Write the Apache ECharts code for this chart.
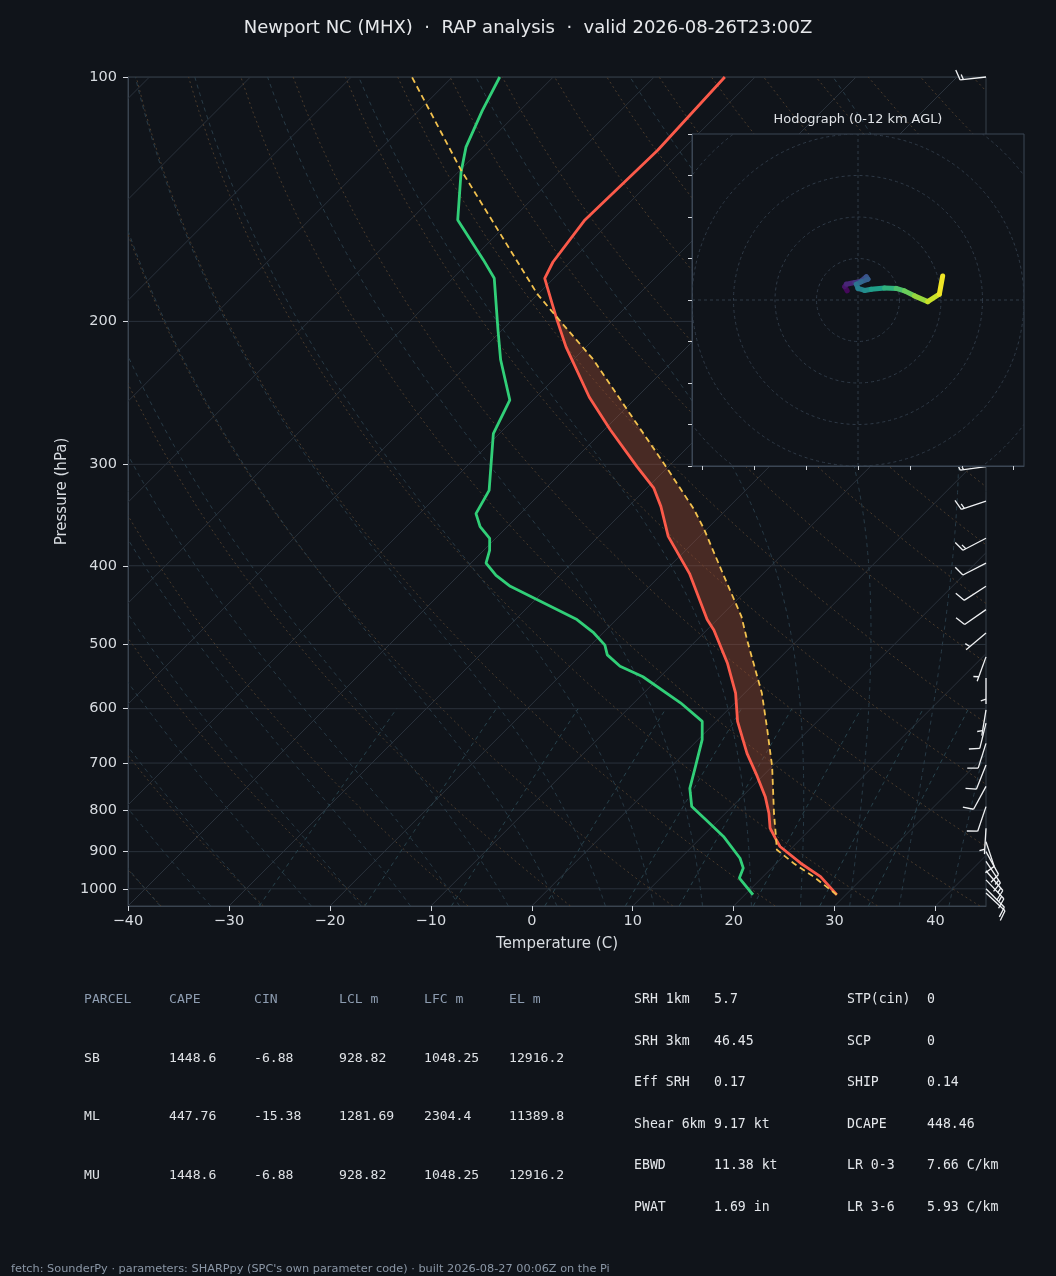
<!DOCTYPE html>
<html><head><meta charset="utf-8">
<script src="https://cdn.jsdelivr.net/npm/echarts@6/dist/echarts.min.js"></script>
<style>html,body{margin:0;padding:0;background:#10141a;}#c{width:1056px;height:1276px;}</style>
</head><body><div id="c"></div>
<script>
// ---------------- data ----------------
const titleText = 'Newport NC (MHX)  \u00b7  RAP analysis  \u00b7  valid 2026-08-26T23:00Z';
const footerText = "fetch: SounderPy \u00b7 parameters: SHARPpy (SPC's own parameter code) \u00b7 built 2026-08-27 00:06Z on the Pi";
const hodoTitle = 'Hodograph (0-12 km AGL)';

const tempP = [1017, 966, 930, 887, 866, 842, 807, 770, 727, 681, 622, 574, 527, 480, 466, 409, 368, 338, 321, 302, 272, 248, 215, 199, 190, 177, 169, 150, 123, 100];
const tempT = [29.1, 25.7, 22.4, 18.7, 17.4, 15.9, 14.3, 12.3, 9.5, 6.2, 2.1, -0.9, -4.7, -9.3, -11.0, -17.3, -23.1, -26.8, -29.3, -33.1, -39.4, -44.7, -52.0, -55.6, -57.7, -60.9, -61.7, -62.7, -62.4, -63.0];

const dewP = [1017, 970, 943, 917, 862, 822, 792, 752, 707, 655, 622, 590, 548, 532, 515, 501, 484, 466, 424, 411, 397, 383, 370, 358, 345, 323, 275, 250, 223, 205, 177, 168, 150, 131, 122, 110, 100];
const dewT = [20.8, 17.8, 17.2, 15.9, 12.1, 8.7, 6.0, 4.0, 2.4, 0.4, -1.4, -5.4, -11.7, -15.0, -17.4, -18.6, -20.9, -23.9, -33.8, -36.3, -38.5, -39.4, -40.6, -42.7, -44.4, -45.4, -50.6, -52.3, -57.2, -60.4, -65.9, -68.8, -75.3, -79.7, -81.7, -83.7, -85.3];

const parcelP = [1017, 966, 930, 895, 862, 807, 707, 631, 574, 494, 462, 409, 361, 341, 299, 257, 223, 199, 185, 130, 100];
const parcelT = [29.1, 25.0, 21.7, 18.7, 17.3, 14.8, 10.0, 5.5, 1.7, -5.0, -7.9, -14.0, -20.2, -23.2, -30.8, -39.7, -48.0, -55.4, -60.1, -80.0, -94.0];

const windP = [1012, 1000, 975, 950, 925, 900, 875, 842, 792, 748, 704, 662, 625, 602, 550, 518, 484, 453, 424, 397, 370, 333, 302, 100];
const windU = [-7.5, -8.0, -9.0, -8.5, -7.0, -5.5, -3.0, 0.3, 3.2, 4.8, 3.7, 3.0, 2.4, 0.8, 0.0, 1.7, 3.8, 8.2, 8.4, 8.9, 13.3, 14.2, 14.9, 15.0];
const windV = [7.0, 8.0, 9.5, 10.0, 10.5, 10.0, 9.0, 5.0, 9.5, 8.8, 9.3, 9.5, 9.7, 4.9, 5.0, 4.7, 3.2, 5.7, 5.4, 4.6, 6.9, 4.7, 2.0, 1.7];

const hodoU = [-2.6, -3.2, -2.8, -0.8, 0.8, 2.0, 2.4, 0.8, -0.4, 0.0, 1.6, 3.2, 6.4, 9.2, 11.2, 13.6, 16.8, 19.6, 20.4];
const hodoV = [2.2, 3.2, 3.8, 4.2, 4.6, 5.6, 5.0, 4.4, 3.8, 2.8, 2.3, 2.6, 2.9, 2.8, 2.2, 1.0, -0.4, 1.4, 5.8];
const hodoZ = [0, 0.5, 1.0, 1.5, 2.2, 3.0, 3.4, 3.8, 4.3, 5.0, 5.6, 6.2, 7.2, 8.2, 8.9, 9.6, 10.6, 11.5, 12.0];

const pressureTicks = [100, 200, 300, 400, 500, 600, 700, 800, 900, 1000];
const tempTicks = [-40, -30, -20, -10, 0, 10, 20, 30, 40];
const isothermT = [-130, -120, -110, -100, -90, -80, -70, -60, -50, -40, -30, -20, -10, 0, 10, 20, 30, 40];
const dryAdiabatT0 = [-40, -30, -20, -10, 0, 10, 20, 30, 40, 50, 60, 70, 80, 90, 100, 110, 120, 130, 140, 150, 160, 170, 180, 190, 200];
const moistAdiabatT0 = [-40, -35, -30, -25, -20, -15, -10, -5, 0, 5, 10, 15, 20, 25, 30, 35, 40, 45];
const mixingRatios = [0.4, 1, 2, 4, 7, 10, 16, 24, 32];
const hodoRings = [10, 20, 30, 40, 50];
const hodoXTicks = [-37.5, -25, -12.5, 0, 12.5, 25, 37.5];
const hodoYTicks = [-40, -30, -20, -10, 0, 10, 20, 30, 40];

const tableHeaders = ['PARCEL', 'CAPE', 'CIN', 'LCL m', 'LFC m', 'EL m'];
const parcelNames = ['SB', 'ML', 'MU'];
const capeVals = [1448.6, 447.76, 1448.6];
const cinVals = [-6.88, -15.38, -6.88];
const lclVals = [928.82, 1281.69, 928.82];
const lfcVals = [1048.25, 2304.4, 1048.25];
const elVals = [12916.2, 11389.8, 12916.2];
const indexLabelsA = ['SRH 1km', 'SRH 3km', 'Eff SRH', 'Shear 6km', 'EBWD', 'PWAT'];
const indexValuesA = ['5.7', '46.45', '0.17', '9.17 kt', '11.38 kt', '1.69 in'];
const indexLabelsB = ['STP(cin)', 'SCP', 'SHIP', 'DCAPE', 'LR 0-3', 'LR 3-6'];
const indexValuesB = ['0', '0', '0.14', '448.46', '7.66 C/km', '5.93 C/km'];

// ---------------- layout / style ----------------
const BG = '#10141a';
const G = {left: 128, top: 77, width: 858, height: 829};
const HG = {left: 692, top: 134, width: 332, height: 332};
const X_MIN = -40, X_MAX = 45, P_TOP = 100, P_BOT = 1050;
const SKEW = (G.height / (Math.log10(P_BOT) - Math.log10(P_TOP))) / (G.width / (X_MAX - X_MIN));
const FONT = '"DejaVu Sans", "Noto Sans", sans-serif';
const MONO = '"DejaVu Sans Mono", "Liberation Mono", monospace';
const TXT = '#d8dce1';

function sx(T, p) { return T + SKEW * Math.log10(P_BOT / p); }
function ly(p) { return Math.log10(p); }

// ---------- thermodynamic guide lines ----------
const guidePressures = [];
for (let p = P_BOT; p >= P_TOP; p -= 10) guidePressures.push(p);
if (guidePressures[guidePressures.length - 1] !== P_TOP) guidePressures.push(P_TOP);

const isobarLines = pressureTicks.map(p => [[X_MIN, ly(p)], [X_MAX, ly(p)]]);
const isothermLines = isothermT.map(t => [[sx(t, P_BOT), ly(P_BOT)], [sx(t, P_TOP), ly(P_TOP)]]);
const dryLines = dryAdiabatT0.map(t0 => guidePressures.map(p => {
  const T = (t0 + 273.15) * Math.pow(p / 1000, 0.2857) - 273.15;
  return [sx(T, p), ly(p)];
}));
function dTdp(T, p) {
  const Tc = T - 273.15;
  const es = 6.112 * Math.exp(17.67 * Tc / (Tc + 243.5));
  const rs = 0.622 * es / (p - es);
  return (287.04 * T + 2.501e6 * rs) / (p * (1005.7 + 2.501e6 * 2.501e6 * rs * 0.622 / (287.04 * T * T)));
}
function rk4(T, p, dp) {
  const k1 = dTdp(T, p), k2 = dTdp(T + k1 * dp / 2, p + dp / 2), k3 = dTdp(T + k2 * dp / 2, p + dp / 2), k4 = dTdp(T + k3 * dp, p + dp);
  return T + dp * (k1 + 2 * k2 + 2 * k3 + k4) / 6;
}
const moistLines = moistAdiabatT0.map(t0 => {
  const up = []; let T = t0 + 273.15, p = 1000; up.push([T, p]);
  while (p > P_TOP) { T = rk4(T, p, -5); p -= 5; up.push([T, p]); }
  const down = []; T = t0 + 273.15; p = 1000;
  while (p < P_BOT) { T = rk4(T, p, 5); p += 5; down.push([T, p]); }
  return down.reverse().concat(up).map(a => [sx(a[0] - 273.15, a[1]), ly(a[1])]);
});
const mixPressures = [];
for (let p = P_BOT; p >= 600; p -= 10) mixPressures.push(p);
const mixLines = mixingRatios.map(w => mixPressures.map(p => {
  const r = w / 1000; const e = r * p / (0.622 + r);
  const l = Math.log(e / 6.112); const Td = 243.5 * l / (17.67 - l);
  return [sx(Td, p), ly(p)];
}));

function guideSeries(lines, style, z) {
  return {
    type: 'custom', xAxisIndex: 0, yAxisIndex: 0, z: z, clip: true, silent: true, animation: false,
    data: lines.map((l, i) => [i, 0]),
    renderItem: (params, api) => {
      const pts = lines[params.dataIndex].map(d => api.coord(d));
      return {type: 'polyline', shape: {points: pts}, style: Object.assign({fill: 'none'}, style)};
    }
  };
}

// ---------- CAPE area (parcel warmer than environment) ----------
function interpT(P, T, p) {
  for (let i = 0; i < P.length - 1; i++) {
    if (p <= P[i] && p >= P[i + 1]) {
      const a = Math.log(P[i]), b = Math.log(P[i + 1]);
      const f = b === a ? 0 : (Math.log(p) - a) / (b - a);
      return T[i] + f * (T[i + 1] - T[i]);
    }
  }
  return null;
}
const pHi = Math.min(parcelP[0], tempP[0]), pLo = Math.max(parcelP[parcelP.length - 1], tempP[tempP.length - 1]);
const mergedP = Array.from(new Set(parcelP.concat(tempP))).filter(p => p <= pHi && p >= pLo).sort((a, b) => b - a);
function diffAt(p) { return interpT(parcelP, parcelT, p) - interpT(tempP, tempT, p); }
function crossP(p0, p1) {
  const d0 = diffAt(p0), d1 = diffAt(p1); const f = d0 / (d0 - d1);
  return Math.exp(Math.log(p0) + f * (Math.log(p1) - Math.log(p0)));
}
const capeSegs = []; let cur = null;
for (let k = 0; k < mergedP.length; k++) {
  const p = mergedP[k]; const d = diffAt(p);
  if (d > 0) {
    if (!cur) { cur = []; if (k > 0) cur.push(crossP(mergedP[k - 1], p)); }
    cur.push(p);
  } else if (cur) {
    cur.push(crossP(mergedP[k - 1], p)); capeSegs.push(cur); cur = null;
  }
}
if (cur) capeSegs.push(cur);
const capePolys = capeSegs.map(seg => {
  const a = seg.map(p => [sx(interpT(parcelP, parcelT, p), p), ly(p)]);
  const b = seg.slice().reverse().map(p => [sx(interpT(tempP, tempT, p), p), ly(p)]);
  return a.concat(b);
});

// ---------- viridis ----------
const VIRIDIS = ['#440154', '#482878', '#3e4989', '#31688e', '#26828e', '#1f9e89', '#35b779', '#6ece58', '#b5de2b', '#fde725'];
function hx(c) { return [parseInt(c.substr(1, 2), 16), parseInt(c.substr(3, 2), 16), parseInt(c.substr(5, 2), 16)]; }
function viridis(t) {
  t = Math.max(0, Math.min(1, t));
  const x = t * (VIRIDIS.length - 1); const i = Math.min(Math.floor(x), VIRIDIS.length - 2); const f = x - i;
  const a = hx(VIRIDIS[i]), b = hx(VIRIDIS[i + 1]);
  return 'rgb(' + [0, 1, 2].map(k => Math.round(a[k] + f * (b[k] - a[k]))).join(',') + ')';
}

// ---------- barbs ----------
function renderBarb(params, api) {
  const i = params.dataIndex;
  const base = api.coord([X_MAX, ly(windP[i])]);
  const u = windU[i], v = windV[i];
  const spd = Math.hypot(u, v);
  const L = 26, fh = 0.4 * L, fw = 0.25 * L, sp = 0.125 * L;
  const style = {stroke: '#f0f2f4', lineWidth: 1.3, fill: 'none'};
  if (spd < 0.01) return {type: 'circle', shape: {cx: base[0], cy: base[1], r: 3}, style: style};
  const s = [-u / spd, v / spd];
  const n = [-v / spd, -u / spd];
  const P = (a, b) => [base[0] + b * s[0] + a * n[0], base[1] + b * s[1] + a * n[1]];
  const children = [{type: 'polyline', shape: {points: [P(0, 0), P(0, L)]}, style: style}];
  let r = 5 * Math.round(spd / 5);
  const nFlag = Math.floor(r / 50); r -= nFlag * 50;
  const nBarb = Math.floor(r / 10); r -= nBarb * 10;
  const half = r >= 5;
  let off = L;
  for (let k = 0; k < nFlag; k++) {
    children.push({type: 'polygon', shape: {points: [P(0, off), P(fh, off - fw / 2), P(0, off - fw)]}, style: {fill: '#f0f2f4', stroke: '#f0f2f4', lineWidth: 1}});
    off -= fw + sp;
  }
  for (let k = 0; k < nBarb; k++) {
    children.push({type: 'polyline', shape: {points: [P(0, off), P(fh, off + fw / 2)]}, style: style});
    off -= sp;
  }
  if (half) {
    if (off === L) off -= 1.5 * sp;
    children.push({type: 'polyline', shape: {points: [P(0, off), P(fh / 2, off + fw / 4)]}, style: style});
  }
  return {type: 'group', children: children};
}

// ---------- graphic texts ----------
const graphics = [];
function txt(x, y, text, font, fill, align) {
  graphics.push({type: 'text', x: x, y: y, z: 100, silent: true,
    style: {text: text, font: font, fill: fill, textAlign: align || 'left', textVerticalAlign: 'middle', align: align || 'left', verticalAlign: 'middle'}});
}
txt(528, 28, titleText, '18px ' + FONT, '#e6e8eb', 'center');
txt(858, 120, hodoTitle, '12.9px ' + FONT, '#dfe2e6', 'center');
txt(11, 1269, footerText, '11.3px ' + FONT, '#8a96a5', 'left');
const colX = [84, 169, 254, 339, 424, 509];
const rowY = [1000, 1058.5, 1117, 1176];
const TFONT = '13.1px ' + MONO;
const RFONT = '13.2px ' + MONO;
tableHeaders.forEach((h, j) => txt(colX[j], rowY[0], h, TFONT, '#8d9cb0'));
parcelNames.forEach((nm, r) => {
  const vals = [nm, capeVals[r], cinVals[r], lclVals[r], lfcVals[r], elVals[r]];
  vals.forEach((v, j) => txt(colX[j], rowY[r + 1], String(v), TFONT, '#dfe2e6'));
});
const idxY = [1000, 1041.5, 1083, 1124.5, 1166, 1207.5];
indexLabelsA.forEach((l, r) => { txt(634, idxY[r], l, RFONT, '#e4e7eb'); txt(714, idxY[r], indexValuesA[r], RFONT, '#e4e7eb'); });
indexLabelsB.forEach((l, r) => { txt(847, idxY[r], l, RFONT, '#e4e7eb'); txt(927, idxY[r], indexValuesB[r], RFONT, '#e4e7eb'); });

// ---------- chart ----------
const chart = echarts.init(document.getElementById('c'), null, {renderer: 'canvas'});
const gridCol = '#2a323c';
chart.setOption({
  backgroundColor: BG,
  animation: false,
  grid: [
    {left: G.left, top: G.top, width: G.width, height: G.height, show: true, borderColor: '#36404b', borderWidth: 1, backgroundColor: 'transparent'},
    {left: HG.left, top: HG.top, width: HG.width, height: HG.height, show: true, borderColor: '#3b4654', borderWidth: 1, backgroundColor: BG, z: 10}
  ],
  xAxis: [
    {type: 'value', gridIndex: 0, min: X_MIN, max: X_MAX,
      axisLine: {show: true, onZero: false, lineStyle: {color: '#3a4450'}},
      axisTick: {show: true, customValues: tempTicks, length: 5, lineStyle: {color: '#d6dae0'}},
      axisLabel: {show: true, customValues: tempTicks, color: TXT, fontSize: 14.5, fontFamily: FONT, margin: 8,
        formatter: v => (v < 0 ? '\u2212' + Math.abs(v) : String(v))},
      splitLine: {show: false},
      name: 'Temperature (C)', nameLocation: 'middle', nameGap: 31,
      nameTextStyle: {color: TXT, fontSize: 15, fontFamily: FONT}},
    {type: 'value', gridIndex: 1, min: -40, max: 40, z: 11,
      axisLine: {show: true, onZero: false, lineStyle: {color: '#3b4654'}},
      axisTick: {show: true, customValues: hodoXTicks, length: 4, lineStyle: {color: '#cfd3d8'}},
      axisLabel: {show: false}, splitLine: {show: false}}
  ],
  yAxis: [
    {type: 'value', gridIndex: 0, inverse: true, min: ly(P_TOP), max: ly(P_BOT),
      axisLine: {show: true, onZero: false, lineStyle: {color: '#3a4450'}},
      axisTick: {show: true, customValues: pressureTicks.map(ly), length: 5, lineStyle: {color: '#d6dae0'}},
      axisLabel: {show: true, customValues: pressureTicks.map(ly), color: TXT, fontSize: 14.5, fontFamily: FONT, margin: 11,
        formatter: v => String(Math.round(Math.pow(10, v)))},
      splitLine: {show: false},
      name: 'Pressure (hPa)', nameLocation: 'middle', nameGap: 57, nameRotate: 90,
      nameTextStyle: {color: TXT, fontSize: 15, fontFamily: FONT}},
    {type: 'value', gridIndex: 1, min: -40, max: 40, z: 11,
      axisLine: {show: true, onZero: false, lineStyle: {color: '#3b4654'}},
      axisTick: {show: true, customValues: hodoYTicks, length: 4, lineStyle: {color: '#cfd3d8'}},
      axisLabel: {show: false}, splitLine: {show: false}}
  ],
  graphic: graphics,
  series: [
    guideSeries(isobarLines, {stroke: gridCol, lineWidth: 1}, 1),
    guideSeries(isothermLines, {stroke: gridCol, lineWidth: 1}, 1),
    guideSeries(dryLines, {stroke: '#4a3b2c', lineWidth: 1, lineDash: [2, 3]}, 1),
    guideSeries(moistLines, {stroke: '#283b47', lineWidth: 1, lineDash: [4, 4]}, 1),
    guideSeries(mixLines, {stroke: '#28434d', lineWidth: 1, lineDash: [4, 4]}, 1),
    {type: 'custom', xAxisIndex: 0, yAxisIndex: 0, z: 2, clip: true, silent: true,
      data: capePolys.map((c, i) => [i, 0]),
      renderItem: (params, api) => ({type: 'polygon', shape: {points: capePolys[params.dataIndex].map(d => api.coord(d))},
        style: {fill: 'rgba(165,80,52,0.38)', stroke: 'none'}})},
    {type: 'line', xAxisIndex: 0, yAxisIndex: 0, z: 3, clip: true, silent: true, symbol: 'none', showSymbol: false,
      data: dewP.map((p, i) => [sx(dewT[i], p), ly(p)]), lineStyle: {color: '#31cf78', width: 2.8}},
    {type: 'line', xAxisIndex: 0, yAxisIndex: 0, z: 3, clip: true, silent: true, symbol: 'none', showSymbol: false,
      data: tempP.map((p, i) => [sx(tempT[i], p), ly(p)]), lineStyle: {color: '#fb5a4a', width: 2.8}},
    {type: 'line', xAxisIndex: 0, yAxisIndex: 0, z: 4, clip: true, silent: true, symbol: 'none', showSymbol: false,
      data: parcelP.map((p, i) => [sx(parcelT[i], p), ly(p)]), lineStyle: {color: '#f2c14e', width: 1.8, type: [6, 4]}},
    {type: 'custom', xAxisIndex: 0, yAxisIndex: 0, z: 5, clip: false, silent: true,
      data: windP.map((p, i) => [i, 0]), renderItem: renderBarb},
    // hodograph
    {type: 'custom', xAxisIndex: 1, yAxisIndex: 1, z: 12, clip: true, silent: true,
      data: hodoRings.map((r, i) => [i, 0]),
      renderItem: (params, api) => {
        const c = api.coord([0, 0]); const r = api.size([hodoRings[params.dataIndex], 0])[0];
        return {type: 'circle', shape: {cx: c[0], cy: c[1], r: r}, style: {fill: 'none', stroke: '#2f3a47', lineWidth: 1, lineDash: [3, 3]}};
      }},
    {type: 'custom', xAxisIndex: 1, yAxisIndex: 1, z: 12, clip: true, silent: true,
      data: [[0, 0], [1, 0]],
      renderItem: (params, api) => {
        const pts = params.dataIndex === 0 ? [api.coord([-40, 0]), api.coord([40, 0])] : [api.coord([0, -40]), api.coord([0, 40])];
        return {type: 'polyline', shape: {points: pts}, style: {fill: 'none', stroke: '#2f3a47', lineWidth: 1, lineDash: [3, 3]}};
      }},
    {type: 'custom', xAxisIndex: 1, yAxisIndex: 1, z: 13, clip: true, silent: true,
      data: hodoU.slice(0, -1).map((u, i) => [u, hodoV[i]]),
      renderItem: (params, api) => {
        const i = params.dataIndex;
        return {type: 'polyline', shape: {points: [api.coord([hodoU[i], hodoV[i]]), api.coord([hodoU[i + 1], hodoV[i + 1]])]},
          style: {fill: 'none', stroke: viridis((hodoZ[i] + hodoZ[i + 1]) / 24), lineWidth: 5, lineCap: 'round'}};
      }}
  ]
});
</script></body></html>
